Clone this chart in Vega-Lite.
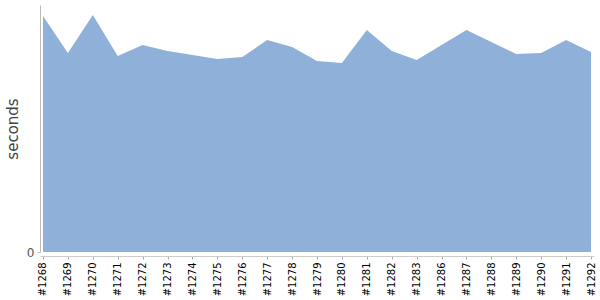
{
  "$schema": "https://vega.github.io/schema/vega-lite/v6.json",
  "autosize": "none",
  "width": 554,
  "height": 247,
  "padding": {"left": 40, "top": 5, "right": 6, "bottom": 48},
  "background": "white",
  "config": {"view": {"stroke": null}, "font": "DejaVu Sans"},
  "data": {"values": [
    {"build": "#1268", "seconds": 236},
    {"build": "#1269", "seconds": 199},
    {"build": "#1270", "seconds": 237},
    {"build": "#1271", "seconds": 196},
    {"build": "#1272", "seconds": 207},
    {"build": "#1273", "seconds": 201},
    {"build": "#1274", "seconds": 197},
    {"build": "#1275", "seconds": 193},
    {"build": "#1276", "seconds": 195},
    {"build": "#1277", "seconds": 212},
    {"build": "#1278", "seconds": 205},
    {"build": "#1279", "seconds": 191},
    {"build": "#1280", "seconds": 189},
    {"build": "#1281", "seconds": 222},
    {"build": "#1282", "seconds": 201},
    {"build": "#1283", "seconds": 192},
    {"build": "#1286", "seconds": 207},
    {"build": "#1287", "seconds": 222},
    {"build": "#1288", "seconds": 210},
    {"build": "#1289", "seconds": 198},
    {"build": "#1290", "seconds": 199},
    {"build": "#1291", "seconds": 212},
    {"build": "#1292", "seconds": 200}
  ]},
  "mark": {"type": "area", "color": "#8fb1d9", "opacity": 1},
  "encoding": {
    "x": {
      "field": "build", "type": "ordinal", "sort": null,
      "scale": {"type": "point", "padding": 0.12},
      "axis": {
        "title": null, "labelAngle": -90, "labelFontSize": 10, "labelColor": "#000",
        "labelFont": "DejaVu Sans", "domain": true, "domainColor": "#ccc", "tickColor": "#aaa", "tickSize": 3,
        "labelPadding": 3, "offset": 4
      }
    },
    "y": {
      "field": "seconds", "type": "quantitative",
      "scale": {"domain": [0, 247], "nice": false},
      "axis": {
        "title": "seconds", "values": [0], "grid": false, "domainColor": "#bbb",
        "tickColor": "#bbb", "tickSize": 3, "labelColor": "#555", "labelFontSize": 12,
        "labelPadding": 3, "titleFontSize": 15, "titleFontWeight": "normal",
        "titleColor": "#444", "titlePadding": 6
      }
    }
  }
}
